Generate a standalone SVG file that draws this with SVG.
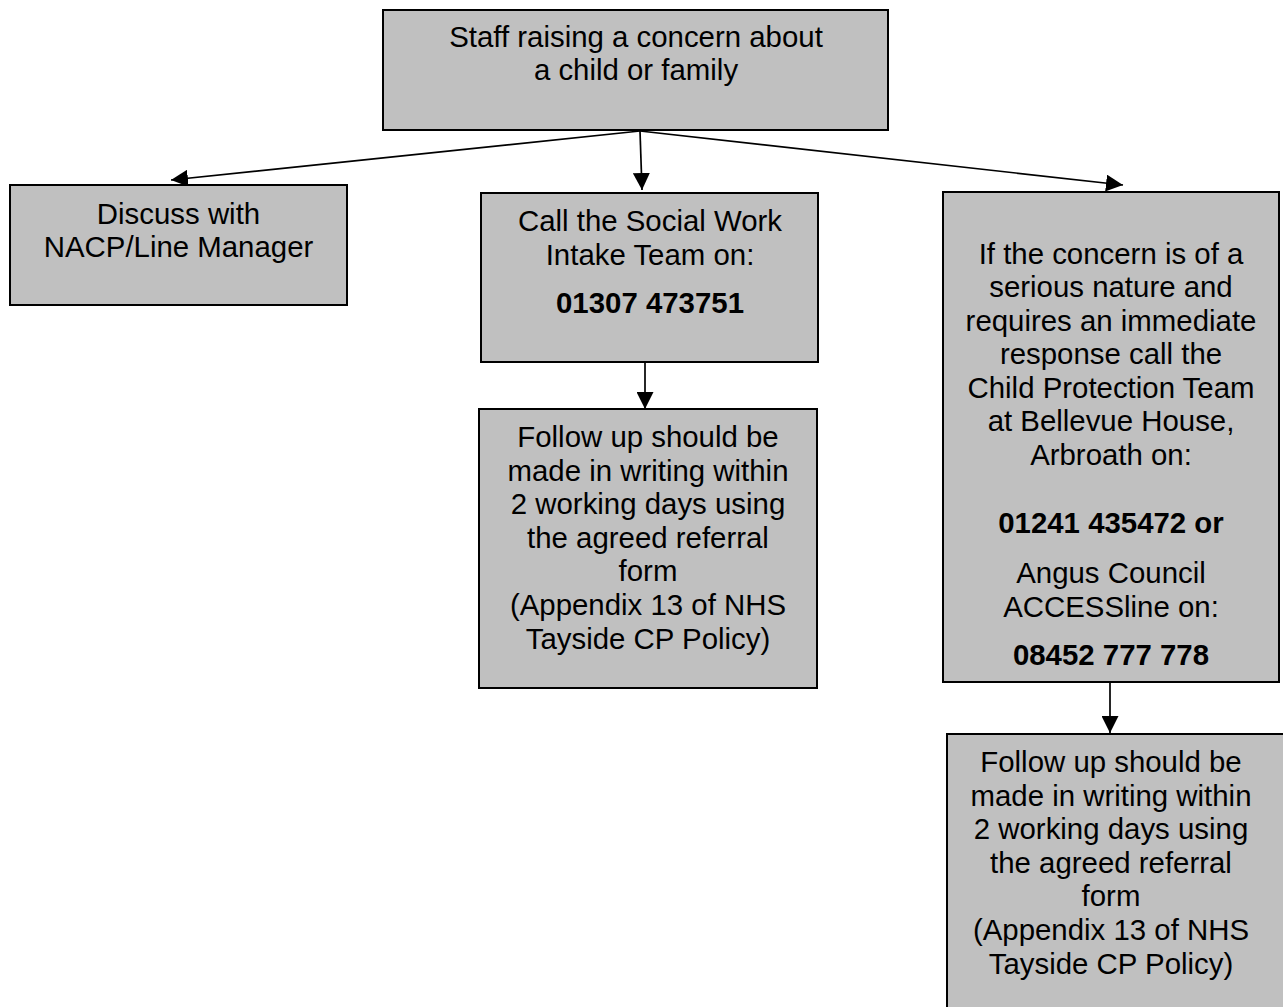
<svg xmlns="http://www.w3.org/2000/svg" width="1283" height="1007" viewBox="0 0 1283 1007">
<style>
.box{fill:#c0c0c0;stroke:#000;stroke-width:2}
.t{font-family:"Liberation Sans",Arial,sans-serif;font-size:29.4px;fill:#000;text-anchor:middle}
.b{font-weight:bold}
.c{stroke:#000;stroke-width:1.7;fill:none}
</style>
<defs>
<marker id="ah" markerUnits="userSpaceOnUse" markerWidth="17" markerHeight="17" refX="17" refY="8.5" orient="auto">
<path d="M0,0 L17,8.5 L0,17 z" fill="#000"/>
</marker>
</defs>
<rect width="1283" height="1007" fill="#fff"/>
<g id="connectors">
<line class="c" x1="640" y1="131" x2="171" y2="180" marker-end="url(#ah)"/>
<line class="c" x1="640" y1="131" x2="642" y2="190" marker-end="url(#ah)"/>
<line class="c" x1="640" y1="131" x2="1123" y2="185" marker-end="url(#ah)"/>
<line class="c" x1="645" y1="362" x2="645" y2="409" marker-end="url(#ah)"/>
<line class="c" x1="1110" y1="682" x2="1110" y2="733" marker-end="url(#ah)"/>
</g>
<g id="n-top">
<rect class="box" x="383" y="10" width="505" height="120"/>
<text class="t" x="636" y="47">Staff raising a concern about</text>
<text class="t" x="636" y="80">a child or family</text>
</g>
<g id="n-discuss">
<rect class="box" x="10" y="185" width="337" height="120"/>
<text class="t" x="178.5" y="224">Discuss with</text>
<text class="t" x="178.5" y="257">NACP/Line Manager</text>
</g>
<g id="n-call">
<rect class="box" x="481" y="193" width="337" height="169"/>
<text class="t" x="650" y="231">Call the Social Work</text>
<text class="t" x="650" y="265">Intake Team on:</text>
<text class="t b" x="650" y="313">01307 473751</text>
</g>
<g id="n-follow1">
<rect class="box" x="479" y="409" width="338" height="279"/>
<text class="t" x="648" y="447">Follow up should be</text>
<text class="t" x="648" y="480.6">made in writing within</text>
<text class="t" x="648" y="514.2">2 working days using</text>
<text class="t" x="648" y="547.8">the agreed referral</text>
<text class="t" x="648" y="581.4">form</text>
<text class="t" x="648" y="615">(Appendix 13 of NHS</text>
<text class="t" x="648" y="648.6">Tayside CP Policy)</text>
</g>
<g id="n-serious">
<rect class="box" x="943" y="192" width="336" height="490"/>
<text class="t" x="1111" y="263.5">If the concern is of a</text>
<text class="t" x="1111" y="297">serious nature and</text>
<text class="t" x="1111" y="330.5">requires an immediate</text>
<text class="t" x="1111" y="364">response call the</text>
<text class="t" x="1111" y="397.5">Child Protection Team</text>
<text class="t" x="1111" y="431">at Bellevue House,</text>
<text class="t" x="1111" y="464.5">Arbroath on:</text>
<text class="t b" x="1111" y="533">01241 435472 or</text>
<text class="t" x="1111" y="583">Angus Council</text>
<text class="t" x="1111" y="616.5">ACCESSline on:</text>
<text class="t b" x="1111" y="665">08452 777 778</text>
</g>
<g id="n-follow2">
<rect class="box" x="947" y="734" width="345" height="290"/>
<text class="t" x="1111" y="772">Follow up should be</text>
<text class="t" x="1111" y="805.6">made in writing within</text>
<text class="t" x="1111" y="839.2">2 working days using</text>
<text class="t" x="1111" y="872.8">the agreed referral</text>
<text class="t" x="1111" y="906.4">form</text>
<text class="t" x="1111" y="940">(Appendix 13 of NHS</text>
<text class="t" x="1111" y="973.6">Tayside CP Policy)</text>
</g>
</svg>
